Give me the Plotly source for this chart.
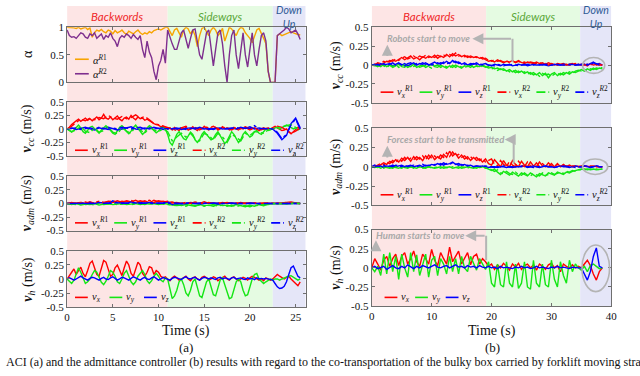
import plotly.graph_objects as go

W, H = 640, 376

# ---------------- time bases ----------------
t_left_fine = [round(0.25 * i, 2) for i in range(103)]   # 0 .. 25.5 s
t_left = [round(0.5 * i, 1) for i in range(52)]          # 0 .. 25.5 s
t_right = [round(0.5 * i, 1) for i in range(78)]         # 0 .. 38.5 s

# ---------------- (a) ACI ----------------
alpha_R1 = [1.0, 1.0, 1.0, 0.99, 0.98, 1.0, 0.97, 0.98, 1.0, 0.96, 0.99, 0.82,
            0.9, 0.95, 0.93, 0.96, 0.92, 0.9, 0.95, 0.93, 0.88, 0.94, 0.9, 0.92,
            0.95, 0.9, 0.87, 0.93, 0.9, 0.88, 0.92, 0.95, 0.9, 0.87, 0.9, 0.88,
            0.92, 0.9, 0.94, 0.96, 0.97, 0.95, 0.98, 1.0, 1.0, 0.93, 0.85, 0.95,
            0.98, 0.9, 0.82, 0.95, 1.0, 0.97, 0.88, 0.95, 0.85, 0.65, 0.85, 0.98,
            1.0, 0.92, 0.85, 0.95, 1.0, 0.95, 0.85, 0.9, 0.98, 0.75, 0.9, 1.0,
            0.97, 0.9, 0.85, 0.95, 1.0, 0.98, 0.9, 0.85, 0.8, 0.72, 0.85, 0.95,
            0.98, 0.9, 0.8, 0.7, 0.2, 0.0, 0.0, 0.0, 0.85, 0.88, 0.85, 0.87,
            0.88, 0.9, 0.92, 0.9, 0.88, 0.87, 0.86]
alpha_R2 = [0.95, 0.85, 0.82, 0.83, 0.8, 0.85, 0.9, 0.88, 0.82, 0.8, 0.88, 0.85,
            0.9, 0.8, 0.85, 0.88, 0.78, 0.85, 0.82, 0.9, 0.8, 0.75, 0.65, 0.8,
            0.85, 0.82, 0.88, 0.85, 0.8, 0.87, 0.82, 0.78, 0.85, 0.6, 0.45, 0.75,
            0.55, 0.45, 0.2, 0.05, 0.3, 0.4, 0.6, 0.35, 0.95, 0.8, 0.7, 0.6,
            0.6, 0.75, 0.9, 0.95, 0.8, 0.62, 0.8, 0.95, 0.97, 0.75, 0.5, 0.42,
            0.7, 0.9, 0.95, 0.6, 0.3, 0.6, 0.9, 0.95, 0.7, 0.3, 0.0, 0.5,
            0.85, 0.95, 0.5, 0.25, 0.6, 0.9, 0.5, 0.28, 0.6, 0.9, 0.5, 0.3,
            0.6, 0.85, 0.9, 0.75, 0.2, 0.0, 0.0, 0.0, 0.85, 0.88, 0.92, 0.95,
            1.0, 0.97, 0.9, 0.92, 0.95, 0.88, 0.78]

Lcc_vx_R1 = [0.0, 0.03, 0.08, 0.12, 0.15, 0.18, 0.14, 0.17, 0.2, 0.16, 0.19, 0.15,
             0.18, 0.22, 0.17, 0.2, 0.27, 0.2, 0.18, 0.22, 0.17, 0.2, 0.24, 0.18,
             0.15, 0.2, 0.22, 0.18, 0.25, 0.2, 0.17, 0.22, 0.19, 0.2, 0.16, 0.18,
             0.15, 0.12, 0.1, 0.08, 0.07, 0.04, 0.05, 0.02, 0.0, 0.02, -0.02, 0.03,
             0.0, -0.03, 0.02, 0.0, 0.03, -0.02, 0.0, 0.04, 0.0, -0.03, 0.02, 0.0,
             0.05, 0.0, -0.02, 0.02, 0.0, 0.03, -0.02, 0.0, 0.04, 0.0, 0.02, -0.02,
             0.0, 0.03, 0.0, -0.02, 0.02, 0.0, 0.03, 0.0, -0.02, 0.0, 0.02, 0.0,
             -0.03, 0.0, 0.02, 0.0, -0.02, 0.0, 0.03, 0.05, 0.02, 0.0, -0.03, -0.02,
             0.0, -0.05, -0.09, -0.05, 0.0, 0.03, 0.02]
Lcc_vy_R1 = [0.0, -0.03, -0.06, -0.02, 0.03, 0.07, 0.02, -0.05, -0.08, -0.03, 0.03, 0.05,
             0.0, -0.05, -0.08, -0.02, 0.03, 0.06, 0.02, -0.04, -0.08, -0.1, -0.04, 0.03,
             0.06, 0.02, -0.05, -0.09, -0.04, 0.03, 0.07, 0.02, -0.05, -0.1, -0.06, 0.02,
             0.06, 0.03, -0.03, -0.07, -0.04, 0.02, 0.03, 0.0, -0.1, -0.25, -0.3, -0.2,
             -0.1, -0.05, -0.12, -0.18, -0.2, -0.12, -0.06, -0.1, -0.2, -0.25, -0.2, -0.1,
             -0.05, -0.1, -0.15, -0.2, -0.18, -0.1, -0.05, -0.12, -0.2, -0.27, -0.22, -0.12,
             -0.05, -0.1, -0.18, -0.25, -0.2, -0.1, -0.05, -0.1, -0.15, -0.12, -0.05, -0.03,
             -0.08, -0.1, -0.05, 0.0, -0.03, -0.02, 0.0, 0.02, 0.03, 0.0, 0.02, 0.05,
             0.07, 0.05, 0.03, 0.0, 0.02, -0.02, 0.0]
Lcc_vz_R1 = [0.0, 0.02, -0.01, 0.01, 0.03, 0.0, -0.02, 0.02, 0.0, 0.03,
             0.01, -0.02, 0.0, 0.02, 0.04, 0.0, -0.01, 0.02, 0.0, 0.03,
             0.01, -0.01, 0.02, 0.0, 0.02, -0.01, 0.01, 0.02, 0.0, 0.03,
             0.0, 0.01, -0.01, 0.02, 0.0, 0.01, 0.02, 0.0, 0.03, 0.01,
             0.04, 0.0, 0.02, 0.0, 0.01, 0.0, -0.08, -0.2, -0.12, 0.1,
             0.2, 0.02]
Lcc_vx_R2 = [0.0, 0.05, 0.12, 0.18, 0.15, 0.2, 0.17, 0.21, 0.19, 0.25,
             0.2, 0.18, 0.23, 0.19, 0.21, 0.26, 0.2, 0.23, 0.17, 0.1,
             0.08, 0.05, 0.02, 0.0, -0.03, 0.02, 0.05, 0.0, 0.03, -0.02,
             0.04, 0.02, 0.05, 0.0, 0.03, 0.02, -0.02, 0.03, 0.0, 0.04,
             0.0, 0.02, -0.03, 0.0, 0.02, 0.0, 0.05, 0.03, -0.03, -0.08,
             -0.04, 0.02]
Lcc_vy_R2 = [0.0, -0.05, -0.02, 0.05, -0.04, -0.07, 0.02, -0.06, -0.03, 0.04,
             -0.06, -0.09, 0.02, -0.04, -0.08, 0.05, -0.02, -0.08, 0.03, -0.02,
             -0.05, 0.0, -0.05, -0.22, -0.15, -0.08, -0.15, -0.08, -0.18, -0.22,
             -0.08, -0.12, -0.2, -0.08, -0.15, -0.25, -0.1, -0.15, -0.22, -0.08,
             -0.12, -0.05, -0.06, -0.08, -0.02, 0.0, 0.02, 0.03, 0.05, 0.08,
             0.03, 0.0]
Lcc_vz_R2 = [0.0, 0.01, 0.02, -0.01, 0.01, 0.02, 0.0, 0.03, 0.01, -0.01,
             0.02, 0.0, 0.03, 0.01, 0.0, 0.02, 0.03, 0.0, 0.02, 0.0,
             0.01, 0.02, 0.0, 0.01, 0.0, 0.02, -0.01, 0.0, 0.02, 0.0,
             0.01, -0.01, 0.0, 0.02, 0.01, 0.0, 0.01, 0.03, 0.0, 0.02,
             0.01, 0.06, 0.0, 0.01, 0.0, 0.0, -0.06, -0.18, -0.1, 0.08,
             0.18, 0.0]

Ladm_vx_R1 = [0.0, -0.01, 0.01, 0.02, 0.0, 0.03, 0.0, 0.02, 0.01, 0.04,
              0.02, 0.05, 0.02, 0.05, 0.03, 0.06, 0.02, 0.05, 0.01, 0.06,
              0.03, 0.04, 0.02, 0.03, 0.0, 0.01, 0.0, 0.02, 0.01, 0.0,
              0.03, 0.0, 0.01, 0.0, 0.02, 0.0, 0.01, 0.0, 0.02, 0.0,
              0.01, 0.0, 0.0, 0.01, 0.0, 0.0, 0.01, 0.0, 0.02, 0.03,
              0.01, 0.0]
Ladm_vy_R1 = [0.0, -0.02, 0.0, -0.03, -0.01, -0.02, 0.0, -0.03, -0.01, 0.0,
              -0.02, -0.01, 0.0, -0.02, -0.01, 0.0, -0.02, 0.0, -0.01, 0.0,
              -0.02, 0.0, -0.01, -0.03, -0.02, -0.04, -0.02, -0.03, -0.05, -0.02,
              -0.04, -0.03, -0.05, -0.02, -0.04, -0.03, -0.05, -0.02, -0.04, -0.06,
              -0.03, -0.05, -0.02, -0.04, -0.01, 0.0, -0.01, 0.0, -0.01, 0.0,
              0.01, 0.0]
Ladm_vz_R1 = [0.0, 0.01, 0.0, 0.01, 0.0, 0.02, 0.0, 0.01, 0.02, 0.0,
              0.05, 0.01, 0.02, 0.0, 0.03, 0.01, 0.02, 0.0, 0.02, 0.01,
              0.0, 0.01, 0.03, -0.02, 0.0, -0.01, 0.0, 0.01, 0.0, -0.01,
              0.0, 0.01, 0.0, -0.01, 0.0, 0.01, 0.0, 0.0, -0.01, 0.0,
              0.01, 0.0, 0.0, -0.01, 0.0, 0.0, 0.01, 0.0, 0.0, 0.01,
              0.0, 0.0]
Ladm_vx_R2 = [0.0, 0.02, 0.0, 0.01, 0.03, 0.0, 0.02, 0.04, 0.02, 0.03,
              0.05, 0.02, 0.04, 0.03, 0.06, 0.02, 0.05, 0.03, 0.06, 0.02,
              0.05, 0.03, 0.04, 0.01, 0.02, 0.0, 0.02, 0.0, 0.03, 0.01,
              0.0, 0.02, 0.0, 0.01, 0.0, 0.02, 0.0, 0.01, 0.0, 0.01,
              0.0, 0.01, 0.0, 0.0, 0.01, 0.0, 0.0, 0.01, 0.02, 0.01,
              0.0, 0.0]
Ladm_vy_R2 = [0.0, -0.01, -0.02, 0.0, -0.02, -0.01, -0.03, 0.0, -0.02, -0.01,
              0.0, -0.02, -0.01, 0.0, -0.02, -0.01, 0.0, -0.02, 0.0, -0.01,
              0.0, -0.01, -0.02, -0.02, -0.04, -0.03, -0.05, -0.02, -0.04, -0.03,
              -0.05, -0.04, -0.02, -0.05, -0.03, -0.05, -0.03, -0.06, -0.03, -0.04,
              -0.06, -0.03, -0.04, -0.02, -0.02, 0.0, 0.0, -0.01, 0.0, 0.0,
              0.0, 0.0]
Ladm_vz_R2 = [0.0, 0.0, 0.01, 0.0, 0.0, 0.01, 0.0, 0.02, 0.0, 0.01,
              0.0, 0.02, 0.0, 0.01, 0.0, 0.02, 0.0, 0.01, 0.0, 0.0,
              0.01, 0.0, 0.0, 0.01, 0.0, 0.0, 0.01, 0.0, 0.0, 0.01,
              0.0, 0.0, 0.01, 0.0, 0.0, 0.0, 0.01, 0.0, 0.0, 0.0,
              0.01, 0.0, 0.0, 0.0, 0.0, 0.0, 0.0, 0.01, 0.0, 0.0,
              0.0, 0.0]

Lh_vx = [0.0, 0.05, 0.12, 0.18, 0.08, 0.15, 0.21, 0.1, 0.04, 0.15, 0.28, 0.32,
         0.2, 0.08, 0.05, 0.2, 0.33, 0.3, 0.15, 0.05, 0.08, 0.2, 0.25, 0.15,
         0.06, 0.2, 0.32, 0.25, 0.1, 0.05, 0.2, 0.3, 0.25, 0.1, 0.05, 0.12,
         0.22, 0.2, 0.08, 0.15, 0.12, 0.05, 0.02, 0.04, 0.0, -0.03, 0.02, 0.05,
         0.02, -0.02, 0.0, 0.03, 0.05, 0.0, -0.03, 0.02, 0.04, 0.0, -0.02, 0.03,
         0.05, 0.02, -0.02, 0.0, 0.04, 0.02, -0.03, 0.0, 0.03, 0.05, 0.0, -0.02,
         0.02, 0.04, 0.0, -0.03, 0.0, 0.03, 0.01, -0.02, 0.02, 0.05, 0.03, 0.0,
         -0.02, 0.0, -0.03, 0.02, 0.0, -0.02, 0.0, 0.05, 0.08, 0.05, 0.02, 0.0,
         0.03, 0.05, 0.0, -0.05, -0.08, -0.12, -0.05]
Lh_vy = [0.0, -0.05, -0.08, -0.02, 0.1, 0.2, 0.12, 0.0, -0.08, -0.05, 0.0, 0.08,
         0.15, 0.12, 0.02, -0.06, -0.1, -0.04, 0.05, 0.15, 0.12, 0.05, -0.05, -0.08,
         0.0, 0.1, 0.15, 0.05, -0.05, -0.1, -0.05, 0.05, 0.1, 0.15, 0.08, -0.03,
         -0.08, -0.03, 0.05, 0.1, 0.05, -0.02, -0.05, 0.02, 0.0, -0.2, -0.35, -0.3,
         -0.2, -0.05, 0.0, -0.1, -0.25, -0.3, -0.2, -0.05, 0.0, -0.15, -0.3, -0.33,
         -0.2, -0.05, 0.0, -0.15, -0.28, -0.3, -0.18, -0.02, 0.02, -0.1, -0.25, -0.35,
         -0.33, -0.2, -0.05, 0.0, -0.05, -0.2, -0.3, -0.28, -0.15, 0.0, 0.08, 0.1,
         0.0, -0.05, -0.08, -0.05, -0.03, 0.0, -0.02, 0.0, 0.0, -0.02, 0.0, 0.02,
         0.03, 0.05, 0.06, 0.03, 0.0, -0.02, 0.0]
Lh_vz = [0.0, 0.02, 0.0, -0.02, 0.0, 0.03, 0.05, 0.02, 0.0, -0.02, 0.01, 0.03,
         0.02, 0.0, -0.02, 0.01, 0.03, 0.0, -0.01, 0.02, 0.04, 0.01, -0.02, 0.0,
         0.03, 0.02, 0.0, -0.02, 0.01, 0.04, 0.02, 0.0, -0.02, 0.01, 0.03, 0.0,
         -0.01, 0.02, 0.04, 0.01, -0.02, 0.0, 0.03, 0.01, 0.0, -0.02, 0.01, 0.03,
         0.02, 0.0, -0.01, 0.02, 0.04, 0.01, 0.0, 0.02, 0.03, 0.0, -0.02, 0.01,
         0.03, 0.02, 0.0, 0.02, 0.01, -0.01, 0.02, 0.03, 0.0, 0.02, 0.01, -0.01,
         0.02, 0.03, 0.0, 0.01, 0.02, 0.0, -0.01, 0.02, 0.0, 0.01, -0.01, 0.02,
         0.0, 0.01, 0.0, 0.01, 0.0, 0.0, -0.02, -0.08, -0.14, -0.17, -0.16, -0.13,
         -0.05, 0.08, 0.2, 0.23, 0.15, 0.05, 0.02]

# ---------------- (b) admittance controller ----------------
Rcc_vx_R1 = [0.0, 0.01, 0.02, 0.0, 0.03, 0.05, 0.04, 0.07, 0.05, 0.08,
             0.1, 0.07, 0.09, 0.12, 0.08, 0.1, 0.07, 0.11, 0.09, 0.12,
             0.1, 0.13, 0.09, 0.12, 0.1, 0.14, 0.11, 0.15, 0.12, 0.14,
             0.11, 0.13, 0.1, 0.12, 0.1, 0.11, 0.09, 0.1, 0.07, 0.05,
             0.06, 0.04, 0.07, 0.05, 0.03, 0.05, 0.04, 0.06, 0.03, 0.05,
             0.04, 0.02, 0.04, 0.03, 0.02, 0.04, 0.02, 0.03, 0.01, 0.03,
             0.02, 0.0, 0.02, 0.01, 0.02, 0.0, 0.01, 0.02, 0.0, 0.01,
             0.0, 0.01, -0.01, 0.02, 0.0, 0.01, 0.0, 0.0]
Rcc_vy_R1 = [0.0, -0.01, 0.0, -0.02, 0.01, -0.02, 0.0, -0.03, -0.01, 0.01,
             -0.02, -0.03, 0.0, -0.02, 0.01, -0.03, -0.01, 0.0, -0.03, -0.01,
             0.01, -0.02, -0.03, 0.0, -0.02, -0.04, -0.01, -0.03, 0.0, -0.02,
             -0.04, -0.01, -0.02, 0.0, -0.03, -0.01, -0.02, 0.0, -0.02, -0.04,
             -0.03, -0.05, -0.04, -0.06, -0.05, -0.08, -0.06, -0.09, -0.07, -0.1,
             -0.08, -0.11, -0.09, -0.12, -0.1, -0.13, -0.1, -0.14, -0.11, -0.17,
             -0.12, -0.1, -0.14, -0.11, -0.13, -0.1, -0.12, -0.09, -0.1, -0.08,
             -0.06, -0.08, -0.05, -0.07, -0.04, -0.06, -0.04, -0.05]
Rcc_vz_R1 = [0.0, 0.01, -0.01, 0.02, 0.0, 0.01, 0.02, -0.01, 0.01, 0.03,
             0.0, 0.02, -0.01, 0.01, 0.03, 0.0, 0.02, 0.01, 0.03, 0.0,
             0.02, 0.04, 0.01, 0.03, 0.02, 0.05, 0.02, 0.06, 0.03, 0.04,
             0.01, 0.03, 0.0, 0.02, 0.01, 0.03, 0.0, 0.01, 0.02, 0.0,
             -0.01, 0.01, 0.0, -0.01, 0.01, 0.0, 0.01, -0.01, 0.0, 0.01,
             0.0, 0.01, -0.01, 0.0, 0.01, 0.0, 0.0, 0.01, 0.0, -0.01,
             0.0, 0.01, 0.0, 0.0, 0.01, 0.0, 0.0, 0.01, 0.0, 0.01,
             0.0, 0.01, 0.0, 0.02, 0.04, 0.01, 0.02, 0.0]
Rcc_vx_R2 = [0.0, 0.0, 0.03, 0.02, 0.05, 0.03, 0.06, 0.05, 0.08, 0.06,
             0.09, 0.11, 0.08, 0.1, 0.12, 0.09, 0.12, 0.1, 0.13, 0.1,
             0.12, 0.1, 0.13, 0.11, 0.13, 0.12, 0.14, 0.12, 0.16, 0.12,
             0.13, 0.11, 0.12, 0.1, 0.12, 0.1, 0.11, 0.08, 0.09, 0.06,
             0.05, 0.07, 0.05, 0.06, 0.04, 0.06, 0.03, 0.05, 0.04, 0.06,
             0.03, 0.04, 0.02, 0.04, 0.03, 0.02, 0.03, 0.01, 0.02, 0.0,
             0.02, 0.01, 0.0, 0.02, 0.0, 0.01, 0.0, 0.01, 0.02, 0.0,
             0.01, 0.0, 0.01, 0.0, 0.02, 0.0, 0.01, 0.0]
Rcc_vy_R2 = [0.0, 0.0, -0.02, 0.01, -0.01, -0.03, 0.0, -0.02, 0.01, -0.03,
             -0.01, 0.0, -0.03, -0.01, -0.02, 0.0, -0.03, -0.02, 0.0, -0.02,
             -0.04, -0.01, 0.0, -0.03, -0.01, -0.02, -0.04, 0.0, -0.03, -0.01,
             -0.02, -0.04, -0.01, -0.03, 0.0, -0.02, -0.03, -0.01, -0.03, -0.02,
             -0.05, -0.04, -0.07, -0.05, -0.07, -0.06, -0.09, -0.07, -0.1, -0.08,
             -0.11, -0.09, -0.12, -0.1, -0.13, -0.11, -0.15, -0.11, -0.13, -0.12,
             -0.15, -0.12, -0.11, -0.13, -0.1, -0.12, -0.09, -0.11, -0.08, -0.07,
             -0.08, -0.06, -0.07, -0.05, -0.06, -0.04, -0.05, -0.03]
Rcc_vz_R2 = [0.0, 0.0, 0.01, -0.01, 0.02, 0.0, 0.01, 0.03, 0.0, 0.02,
             0.01, -0.01, 0.02, 0.03, 0.0, 0.02, 0.01, 0.03, 0.01, 0.02,
             0.0, 0.02, 0.03, 0.01, 0.04, 0.02, 0.03, 0.04, 0.05, 0.02,
             0.03, 0.01, 0.02, 0.0, 0.02, 0.01, 0.02, 0.0, 0.01, 0.0,
             0.0, -0.01, 0.01, 0.0, -0.01, 0.0, 0.0, 0.01, 0.0, -0.01,
             0.0, 0.0, 0.01, 0.0, 0.0, 0.01, 0.0, 0.0, 0.01, 0.0,
             0.0, 0.0, 0.01, 0.0, 0.0, 0.0, 0.01, 0.0, 0.0, 0.0,
             0.01, 0.0, 0.01, 0.0, 0.03, 0.02, 0.0, 0.0]

Radm_vx_R1 = [0.0, 0.01, 0.0, 0.02, 0.05, 0.03, 0.07, 0.05, 0.09, 0.06,
              0.11, 0.08, 0.12, 0.07, 0.13, 0.09, 0.12, 0.08, 0.14, 0.1,
              0.15, 0.09, 0.13, 0.1, 0.16, 0.12, 0.2, 0.14, 0.17, 0.11,
              0.15, 0.1, 0.13, 0.08, 0.12, 0.08, 0.1, 0.06, 0.1, 0.04,
              0.02, 0.09, 0.05, 0.0, 0.08, 0.02, 0.0, 0.08, 0.03, 0.0,
              0.07, 0.02, 0.0, 0.06, 0.01, 0.0, 0.06, 0.01, 0.0, 0.05,
              0.01, 0.0, 0.04, 0.0, 0.03, 0.0, 0.02, 0.0, 0.01, 0.0,
              0.0, 0.01, 0.0, 0.0, 0.01, 0.0, 0.0, 0.0]
Radm_vy_R1 = [0.0, -0.01, 0.0, -0.02, 0.0, -0.01, -0.02, 0.0, -0.01, -0.02,
              0.0, -0.01, -0.02, 0.0, -0.01, -0.02, 0.0, -0.01, -0.02, 0.0,
              -0.01, -0.02, -0.01, 0.0, -0.02, -0.01, 0.0, -0.02, -0.01, 0.0,
              -0.02, -0.01, 0.0, -0.01, -0.02, 0.0, -0.01, 0.0, -0.01, -0.03,
              -0.05, -0.03, -0.07, -0.1, -0.06, -0.08, -0.11, -0.07, -0.09, -0.12,
              -0.08, -0.1, -0.12, -0.08, -0.1, -0.13, -0.09, -0.1, -0.12, -0.08,
              -0.1, -0.11, -0.07, -0.09, -0.1, -0.07, -0.08, -0.06, -0.05, -0.04,
              -0.03, -0.04, -0.03, -0.04, -0.03, -0.04, -0.03, -0.03]
Radm_vz_R1 = [0.0, 0.02, 0.0, 0.01, -0.01, 0.01, 0.0, 0.02, 0.0, 0.01,
              0.02, 0.0, 0.01, 0.02, 0.0, 0.01, 0.02, 0.0, 0.02, 0.01,
              0.03, 0.02, 0.04, 0.02, 0.05, 0.03, 0.04, 0.06, 0.03, 0.04,
              0.02, 0.03, 0.01, 0.02, 0.0, 0.01, 0.0, 0.01, 0.0, -0.01,
              0.0, 0.0, -0.01, 0.0, 0.0, -0.01, 0.0, 0.0, 0.0, 0.0,
              0.0, 0.01, -0.01, 0.0, 0.01, 0.0, -0.01, 0.0, 0.01, 0.0,
              0.0, -0.01, 0.0, 0.01, 0.0, 0.0, -0.01, 0.0, 0.01, 0.0,
              0.0, 0.01, 0.0, -0.01, 0.0, 0.01, 0.0, 0.0]
Radm_vx_R2 = [0.0, 0.0, 0.02, 0.04, 0.02, 0.06, 0.04, 0.08, 0.05, 0.1,
              0.07, 0.12, 0.08, 0.11, 0.09, 0.13, 0.1, 0.14, 0.09, 0.15,
              0.11, 0.14, 0.1, 0.15, 0.12, 0.18, 0.13, 0.19, 0.14, 0.16,
              0.12, 0.14, 0.1, 0.13, 0.09, 0.12, 0.08, 0.11, 0.06, 0.08,
              0.1, 0.03, 0.01, 0.08, 0.03, 0.0, 0.07, 0.02, 0.0, 0.07,
              0.02, 0.0, 0.06, 0.01, 0.0, 0.05, 0.0, 0.04, 0.01, 0.0,
              0.04, 0.0, 0.03, 0.0, 0.02, 0.01, 0.0, 0.01, 0.0, 0.0,
              0.01, 0.0, 0.0, 0.01, 0.0, 0.0, 0.0, 0.0]
Radm_vy_R2 = [0.0, 0.0, -0.01, 0.0, -0.02, 0.0, -0.01, -0.02, 0.0, -0.01,
              -0.02, 0.0, -0.01, 0.0, -0.02, -0.01, 0.0, -0.02, -0.01, 0.0,
              -0.02, -0.01, 0.0, -0.02, 0.0, -0.01, -0.02, 0.0, -0.01, -0.02,
              0.0, -0.01, -0.02, 0.0, -0.01, -0.02, 0.0, -0.01, -0.02, -0.02,
              -0.04, -0.06, -0.04, -0.08, -0.09, -0.06, -0.09, -0.1, -0.07, -0.1,
              -0.11, -0.08, -0.11, -0.12, -0.09, -0.11, -0.12, -0.08, -0.11, -0.1,
              -0.08, -0.1, -0.09, -0.07, -0.09, -0.06, -0.07, -0.05, -0.06, -0.04,
              -0.04, -0.03, -0.04, -0.03, -0.04, -0.03, -0.04, -0.03]
Radm_vz_R2 = [0.0, 0.0, 0.01, 0.0, 0.02, 0.0, 0.01, 0.0, 0.02, 0.01,
              0.0, 0.02, 0.0, 0.01, 0.02, 0.0, 0.01, 0.03, 0.01, 0.02,
              0.01, 0.03, 0.02, 0.04, 0.02, 0.04, 0.03, 0.05, 0.04, 0.02,
              0.03, 0.01, 0.02, 0.01, 0.0, 0.01, 0.0, 0.0, 0.01, 0.0,
              0.0, -0.01, 0.0, 0.0, 0.01, 0.0, 0.0, -0.01, 0.0, 0.0,
              0.01, 0.0, 0.0, 0.0, -0.01, 0.0, 0.0, 0.01, 0.0, 0.0,
              0.0, -0.01, 0.0, 0.0, 0.01, 0.0, 0.0, 0.0, -0.01, 0.0,
              0.0, 0.01, 0.0, 0.0, 0.0, 0.01, 0.0, 0.0]

Rh_vx = [0.0, 0.12, 0.05, -0.03, 0.1, 0.15, 0.02, 0.12, 0.18, 0.03,
         0.15, 0.2, 0.05, 0.12, 0.22, 0.08, 0.02, 0.18, 0.12, 0.05,
         0.24, 0.1, 0.03, 0.2, 0.12, 0.05, 0.27, 0.08, 0.15, 0.22,
         0.05, 0.12, 0.2, 0.04, 0.15, 0.18, 0.05, 0.12, 0.08, 0.02,
         0.05, -0.02, 0.04, 0.0, 0.06, 0.02, -0.03, 0.05, 0.01, 0.06,
         -0.02, 0.03, 0.05, 0.0, 0.04, -0.03, 0.05, 0.02, -0.02, 0.04,
         0.06, 0.0, 0.03, -0.05, 0.05, 0.02, 0.0, 0.04, 0.0, 0.02,
         0.0, 0.05, 0.1, 0.03, -0.08, -0.16, -0.05, 0.0]
Rh_vy = [0.0, -0.05, 0.02, -0.1, 0.18, -0.08, 0.2, -0.05, 0.15, -0.15,
         0.18, 0.0, -0.12, 0.2, -0.05, 0.17, -0.1, 0.05, 0.18, -0.12,
         0.1, 0.15, -0.1, 0.12, 0.05, -0.08, 0.15, -0.05, 0.12, -0.08,
         0.15, 0.0, -0.05, 0.15, 0.05, -0.03, 0.12, 0.05, -0.02, 0.08,
         -0.2, -0.25, 0.05, -0.22, -0.25, 0.08, -0.2, -0.25, 0.05, -0.27,
         -0.2, 0.08, -0.25, -0.28, 0.1, -0.2, -0.25, 0.05, -0.22, -0.25,
         0.1, -0.15, -0.25, 0.08, -0.1, -0.2, 0.1, -0.05, 0.05, 0.0,
         -0.03, 0.02, -0.05, 0.03, 0.05, 0.02, -0.01, 0.0]
Rh_vz = [0.0, 0.02, -0.01, 0.0, 0.02, -0.02, 0.01, 0.03, 0.0, -0.01,
         0.02, 0.0, 0.04, 0.01, -0.01, 0.02, 0.0, 0.03, 0.01, 0.0,
         0.02, 0.04, 0.01, 0.0, 0.02, 0.03, 0.0, 0.02, 0.04, 0.01,
         0.02, 0.0, 0.03, 0.01, 0.02, 0.0, 0.03, 0.01, 0.0, 0.02,
         0.0, 0.01, -0.01, 0.02, 0.0, 0.01, 0.0, -0.01, 0.01, 0.0,
         0.02, 0.0, 0.01, -0.01, 0.0, 0.02, 0.0, 0.01, 0.0, -0.01,
         0.01, 0.0, 0.02, 0.0, 0.01, 0.0, -0.01, 0.01, 0.0, 0.0,
         0.0, -0.08, -0.16, -0.05, 0.15, 0.26, 0.02, 0.0]

# phase boundaries (s) and labels
left_phases = [(0, 11.0, 'Backwords'), (11.0, 22.5, 'Sideways'), (22.5, 26.1, 'Down<br>Up')]
right_phases = [(0, 19.1, 'Backwards'), (19.1, 34.8, 'Sideways'), (34.8, 40, 'Down<br>Up')]

v_ticks = [-0.5, -0.25, 0, 0.25, 0.5]
v_ticktext = ['-0.5', '-0.25', '0', '0.25', '0.5']

# ---------------- styling ----------------
RED, GREEN, BLUE = '#ff0000', '#14e614', '#0000ff'
ORANGE, PURPLE = '#f7a400', '#7e2f8e'
SHADE = ['#fde5e5', '#e5fbe2', '#e5e6f8']
PHASE_TXT = ['#f0282a', '#5ba83a', '#2e5a94']
FRAME = '#6f6f6f'
GREY = '#b4b4b4'
SERIF = 'Liberation Serif'
SANS = 'Lato'
LW = 1.4
TICKFONT = dict(family=SERIF, size=11, color='#111')


def fx(p):
    return p / W


def fy(p):
    return 1 - p / H


fig = go.Figure()

# panel geometry in pixels: (x0, x1, ytop, ybottom)
panels = {
    1: (65, 307, 22, 79), 2: (65, 307, 99, 155), 3: (65, 307, 176, 232), 4: (65, 307, 253, 311),
    5: (374, 617, 22, 100), 6: (374, 617, 126, 206), 7: (374, 617, 231, 310),
}


def ax_name(i, kind):
    return kind if i == 1 else f'{kind}{i}'


layout_axes = {}
for i, (x0, x1, yt, yb) in panels.items():
    left = i <= 4
    bottom = i in (4, 7)
    xa = dict(domain=[fx(x0), fx(x1)], anchor=ax_name(i, 'y'),
              range=[0, 26.1] if left else [0, 40],
              tickvals=[0, 5, 10, 15, 20, 25] if left else [0, 10, 20, 30, 40],
              showticklabels=bottom, ticks='inside', ticklen=3, tickcolor=FRAME,
              showline=True, linecolor=FRAME, linewidth=1, mirror='ticks',
              showgrid=False, zeroline=False, tickfont=TICKFONT)
    if i == 1:
        ya_ticks, ya_text, ya_range = [0, 0.5, 1], ['0', '0.5', '1'], [0, 1]
    else:
        ya_ticks, ya_text, ya_range = v_ticks, v_ticktext, [-0.5, 0.5]
    ya = dict(domain=[fy(yb), fy(yt)], anchor=ax_name(i, 'x'), range=ya_range,
              tickvals=ya_ticks, ticktext=ya_text, ticks='inside', ticklen=3,
              tickcolor=FRAME, showline=True, linecolor=FRAME, linewidth=1,
              mirror='ticks', showgrid=False, zeroline=False, tickfont=TICKFONT)
    layout_axes['xaxis' if i == 1 else f'xaxis{i}'] = xa
    layout_axes['yaxis' if i == 1 else f'yaxis{i}'] = ya


def add(i, x, y, color, dash='solid', name=''):
    fig.add_trace(go.Scatter(x=x, y=y, mode='lines', name=name, showlegend=False,
                             line=dict(color=color, width=LW, dash=dash),
                             xaxis=ax_name(i, 'x'), yaxis=ax_name(i, 'y'),
                             hoverinfo='skip'))


# panel 1: alpha
add(1, t_left_fine, alpha_R1, ORANGE, name='alpha R1')
add(1, t_left_fine, alpha_R2, PURPLE, name='alpha R2')
# panel 2: v_cc (a)
add(2, t_left_fine, Lcc_vx_R1, RED)
add(2, t_left_fine, Lcc_vy_R1, GREEN)
add(2, t_left, Lcc_vz_R1, BLUE)
add(2, t_left, Lcc_vx_R2, RED, 'dashdot')
add(2, t_left, Lcc_vy_R2, GREEN, 'dashdot')
add(2, t_left, Lcc_vz_R2, BLUE, 'dashdot')
# panel 3: v_adm (a)
add(3, t_left, Ladm_vx_R1, RED)
add(3, t_left, Ladm_vy_R1, GREEN)
add(3, t_left, Ladm_vz_R1, BLUE)
add(3, t_left, Ladm_vx_R2, RED, 'dashdot')
add(3, t_left, Ladm_vy_R2, GREEN, 'dashdot')
add(3, t_left, Ladm_vz_R2, BLUE, 'dashdot')
# panel 4: v_h (a)
add(4, t_left_fine, Lh_vx, RED)
add(4, t_left_fine, Lh_vy, GREEN)
add(4, t_left_fine, Lh_vz, BLUE)
# panel 5: v_cc (b)
add(5, t_right, Rcc_vx_R1, RED)
add(5, t_right, Rcc_vy_R1, GREEN)
add(5, t_right, Rcc_vz_R1, BLUE)
add(5, t_right, Rcc_vx_R2, RED, 'dashdot')
add(5, t_right, Rcc_vy_R2, GREEN, 'dashdot')
add(5, t_right, Rcc_vz_R2, BLUE, 'dashdot')
# panel 6: v_adm (b)
add(6, t_right, Radm_vx_R1, RED)
add(6, t_right, Radm_vy_R1, GREEN)
add(6, t_right, Radm_vz_R1, BLUE)
add(6, t_right, Radm_vx_R2, RED, 'dashdot')
add(6, t_right, Radm_vy_R2, GREEN, 'dashdot')
add(6, t_right, Radm_vz_R2, BLUE, 'dashdot')
# panel 7: v_h (b)
add(7, t_right, Rh_vx, RED)
add(7, t_right, Rh_vy, GREEN)
add(7, t_right, Rh_vz, BLUE)

shapes = []
annotations = []


def note(**kw):
    kw.setdefault('xanchor', 'center')
    kw.setdefault('yanchor', 'middle')
    kw.setdefault('showarrow', False)
    annotations.append(kw)


# phase shading + labels
for phases, xref, ybot in ((left_phases, 'x4', 311), (right_phases, 'x7', 310)):
    for k, (a, b, lab) in enumerate(phases):
        shapes.append(dict(type='rect', xref=xref, yref='paper', x0=a, x1=b,
                           y0=fy(ybot), y1=1, fillcolor=SHADE[k], line=dict(width=0),
                           layer='below'))
        multi = '<br>' in lab
        font = dict(family=SANS, size=10.5 if multi else 11.5, color=PHASE_TXT[k],
                    style='italic')
        note(x=(a + b) / 2, y=fy(11), xref=xref, yref='paper', text=lab, font=font)

# y-axis titles
ytitles = [
    (25, 50, 'α'),
    (25, 127, '<b><i>v</i></b><sub><i>cc</i></sub> (m/s)'),
    (25, 204, '<b><i>v</i></b><sub><i>adm</i></sub> (m/s)'),
    (25, 282, '<b><i>v</i></b><sub><i>h</i></sub> (m/s)'),
    (338, 61, '<b><i>v</i></b><sub><i>cc</i></sub> (m/s)'),
    (338, 166, '<b><i>v</i></b><sub><i>adm</i></sub> (m/s)'),
    (338, 270, '<b><i>v</i></b><sub><i>h</i></sub> (m/s)'),
]
for xp, yp, txt in ytitles:
    note(x=fx(xp), y=fy(yp), xref='paper', yref='paper', text=txt, textangle=-90,
         font=dict(family=SERIF, size=14, color='#111'))

# x titles / sub captions / caption
for xc, tag in ((186, '(a)'), (496, '(b)')):
    note(x=fx(xc), y=fy(336), xref='paper', yref='paper', text='Time (s)',
         font=dict(family=SERIF, size=14, color='#111'))
    note(x=fx(xc), y=fy(353), xref='paper', yref='paper', text=tag,
         font=dict(family=SERIF, size=13, color='#111'))
note(x=fx(1), y=fy(368), xref='paper', yref='paper', xanchor='left',
     text='ACI (a) and the admittance controller (b) results with regard to the '
          'co-transportation of the bulky box carried by forklift moving stra',
     font=dict(family=SERIF, size=12, color='#111'))

# manual legends (key line + text)
R1 = '<sup><i>R</i>1</sup>'
R2 = '<sup><i>R</i>2</sup>'
six = [(RED, 'solid', 'x', R1), (GREEN, 'solid', 'y', R1), (BLUE, 'solid', 'z', R1),
       (RED, 'dash', 'x', R2), (GREEN, 'dash', 'y', R2), (BLUE, 'dash', 'z', R2)]
three = [(RED, 'solid', 'x', ''), (GREEN, 'solid', 'y', ''), (BLUE, 'solid', 'z', '')]


def legend_row(entries, x_start, y, step, key_len=13):
    for k, (c, d, comp, sup) in enumerate(entries):
        x0 = x_start + k * step
        shapes.append(dict(type='line', xref='paper', yref='paper', x0=fx(x0), x1=fx(x0 + key_len),
                           y0=fy(y), y1=fy(y), line=dict(color=c, width=1.6,
                                                         dash='solid' if d == 'solid' else 'dashdot')))
        note(x=fx(x0 + key_len + 2), y=fy(y), xref='paper', yref='paper', xanchor='left',
             text=f'<i>v</i><sub><i>{comp}</i></sub>{sup}',
             font=dict(family=SERIF, size=10.5, color='#111'))


legend_row(six, 73, 149, 39.8)
legend_row(six, 73, 224, 39.8)
legend_row(three, 73, 301, 35)
legend_row(six, 383, 89, 39.5)
legend_row(six, 383, 195, 39.5)
legend_row(three, 387, 301, 31)

for k, (c, sup) in enumerate(((ORANGE, R1), (PURPLE, R2))):
    y = 55 + 15 * k
    shapes.append(dict(type='line', xref='paper', yref='paper', x0=fx(73), x1=fx(87),
                       y0=fy(y), y1=fy(y), line=dict(color=c, width=1.6)))
    note(x=fx(89), y=fy(y), xref='paper', yref='paper', xanchor='left',
         text=f'<i>α</i>{sup}', font=dict(family=SERIF, size=10.5, color='#111'))

# grey annotations in (b)
notes = [
    # (axis idx, text, text_x, text_y, head_x, corner_x, drop_y, up_x, up_from, up_to)
    (5, 'Robots start to move', 2.2, 0.35, 16.8, 23.5, 0.04, 2.6, 0.10, 0.27),
    (6, 'Forces start to be transmitted', 2.2, 0.35, 22.2, 23.7, 0.04, 2.6, 0.10, 0.27),
    (7, 'Human starts to move', 0.4, 0.42, 15.6, 19.1, 0.10, 0.7, 0.20, 0.36),
]
for i, txt, tx, ty, hx, cx, dy, ux, u0, u1 in notes:
    xr, yr = f'x{i}', f'y{i}'
    note(x=tx, y=ty, xref=xr, yref=yr, xanchor='left', text=txt,
         font=dict(family=SANS, size=9.5, color='#a9a9a9', style='italic', weight='bold'))
    annotations.append(dict(x=hx, y=ty, ax=cx, ay=ty, xref=xr, yref=yr, axref=xr, ayref=yr,
                            text='', showarrow=True, arrowhead=2, arrowsize=1.1,
                            arrowwidth=2, arrowcolor=GREY))
    shapes.append(dict(type='line', xref=xr, yref=yr, x0=cx, x1=cx, y0=ty, y1=dy,
                       line=dict(color=GREY, width=2)))
    annotations.append(dict(x=ux, y=u1, ax=ux, ay=u0, xref=xr, yref=yr, axref=xr, ayref=yr,
                            text='', showarrow=True, arrowhead=2, arrowsize=1.1,
                            arrowwidth=2, arrowcolor=GREY))

# ellipses around the down/up segment in (b)
for i, (a, b, lo, hi) in ((5, (35.2, 38.9, -0.11, 0.1)), (6, (35.2, 39.4, -0.1, 0.1)),
                          (7, (35.1, 39.7, -0.31, 0.3))):
    shapes.append(dict(type='circle', xref=f'x{i}', yref=f'y{i}', x0=a, x1=b, y0=lo, y1=hi,
                       line=dict(color=GREY, width=1.6)))

fig.update_layout(
    width=W, height=H, autosize=False,
    margin=dict(l=0, r=0, t=0, b=0),
    paper_bgcolor='white', plot_bgcolor='rgba(0,0,0,0)',
    showlegend=False, shapes=shapes, annotations=annotations,
    **layout_axes,
)

fig.write_html("out.html", config={'displayModeBar': False},
               post_script="document.body.style.margin='0';")
